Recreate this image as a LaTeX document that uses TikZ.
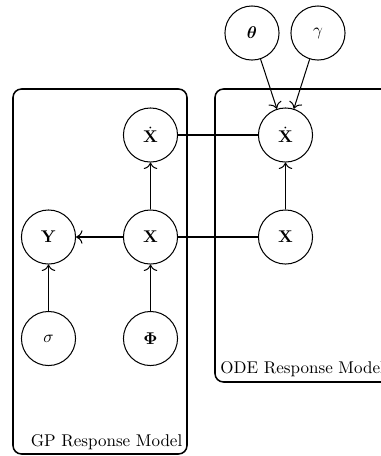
\documentclass[tikz,border=0pt]{standalone}
\usepackage{amsmath,bm}
\usetikzlibrary{arrows.meta}
\begin{document}
\begin{tikzpicture}[x=0.588pt,y=-0.588pt,
  var/.style={circle,draw,line width=0.6pt,minimum size=31.8pt,inner sep=0pt},
  plate/.style={draw,line width=0.9pt,rounded corners=5pt},
  link/.style={line width=0.6pt},
  dep/.style={link,-{To[scale=1.3]}},
  platelabel/.style={inner sep=2pt}]
\clip (0,0) rectangle (381,456);

% plates
\draw[plate] (13,89) rectangle (187,454);
\node[platelabel,anchor=south east] (gplab) at (186,454) {GP Response Model};
\draw[plate] (215,89) rectangle (440,382);
\node[platelabel,anchor=south west,inner sep=3pt] (odelab) at (215,382) {ODE Response Model};

% GP response model
\node[var] (xdg) at (150.5,135) {$\dot{\mathbf{X}}$};
\node[var] (xg)  at (150.5,237) {$\mathbf{X}$};
\node[var] (y)   at (48.5,237)  {$\mathbf{Y}$};
\node[var] (sig) at (48.5,338.5) {$\sigma$};
\node[var] (phi) at (150.5,338.5) {$\bm{\Phi}$};

% ODE response model
\node[var] (xdo) at (285.5,135) {$\dot{\mathbf{X}}$};
\node[var] (xo)  at (285.5,237) {$\mathbf{X}$};
\node[var] (th)  at (252,33) {$\bm{\theta}$};
\node[var] (gam) at (318,33) {$\gamma$};

% connections
\draw[dep] (xg) -- (y);
\draw[dep] (xg) -- (xdg);
\draw[dep] (sig) -- (y);
\draw[dep] (phi) -- (xg);
\draw[dep] (xo) -- (xdo);
\draw[dep] (th) -- (xdo);
\draw[dep] (gam) -- (xdo);
\draw[link] (xdg) -- (xdo);
\draw[link] (xg) -- (xo);
\end{tikzpicture}
\end{document}
